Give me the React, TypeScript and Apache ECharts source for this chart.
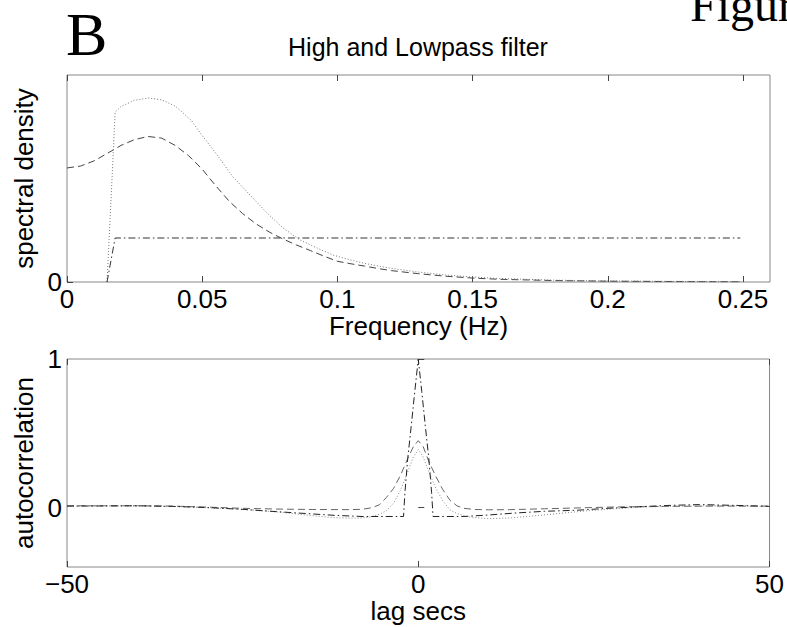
import React, { useEffect, useRef } from "react";
import * as echarts from "echarts";

// ---- Top panel: spectral density vs frequency (Hz) ----
const freqTicks = [0, 0.05, 0.1, 0.15, 0.2, 0.25];
const sdYTicks = [0];

const sdDashedX = [0, 0.005, 0.01, 0.015, 0.02, 0.025, 0.03, 0.035, 0.04, 0.045, 0.05, 0.055, 0.06, 0.065, 0.07, 0.075, 0.08, 0.085, 0.09, 0.095, 0.1, 0.105, 0.11, 0.116, 0.12, 0.13, 0.14, 0.15, 0.16, 0.18, 0.2, 0.225, 0.249];
const sdDashedY = [0.551, 0.56, 0.585, 0.622, 0.66, 0.688, 0.703, 0.695, 0.66, 0.61, 0.545, 0.465, 0.39, 0.33, 0.28, 0.24, 0.207, 0.178, 0.152, 0.125, 0.1, 0.088, 0.077, 0.063, 0.055, 0.04, 0.028, 0.019, 0.013, 0.007, 0.004, 0.002, 0.001];

const sdDottedX = [0.0148, 0.0163, 0.0178, 0.02, 0.025, 0.03, 0.035, 0.04, 0.043, 0.046, 0.049, 0.0555, 0.0614, 0.0677, 0.074, 0.08, 0.0862, 0.0925, 0.0984, 0.105, 0.11, 0.116, 0.12, 0.13, 0.14, 0.15, 0.16, 0.18, 0.2, 0.225, 0.249];
const sdDottedY = [0, 0.4, 0.821, 0.848, 0.878, 0.889, 0.88, 0.85, 0.816, 0.78, 0.725, 0.614, 0.507, 0.42, 0.333, 0.26, 0.203, 0.164, 0.13, 0.106, 0.09, 0.075, 0.066, 0.048, 0.034, 0.024, 0.017, 0.009, 0.005, 0.003, 0.002];

const sdDashDotX = [0.0148, 0.0178, 0.249];
const sdDashDotY = [0, 0.2126, 0.2126];

// ---- Bottom panel: autocorrelation vs lag (secs) ----
const lagTicks = [-50, 0, 50];
const acYTicks = [0, 1];

const acDashedX = [-50, -40, -35, -30, -25, -20, -15, -10, -8, -6.5, -5.5, -4.5, -3.5, -2.5, -1.5, -0.7, 0, 0.7, 1.5, 2.5, 3.5, 4.5, 5.5, 6.5, 8, 10, 13, 18, 23, 28, 35, 42, 50];
const acDashedY = [0.012, 0.012, 0.01, 0.003, -0.005, -0.01, -0.013, -0.014, -0.012, 0.0, 0.02, 0.07, 0.13, 0.22, 0.33, 0.41, 0.45, 0.41, 0.31, 0.21, 0.12, 0.05, 0.012, -0.005, -0.013, -0.015, -0.014, -0.008, -0.002, 0.004, 0.008, 0.01, 0.01];

const acDottedX = [-50, -40, -35, -30, -25, -20, -16, -12, -9, -7, -5.5, -4.5, -3.5, -2.5, -1.5, -0.7, 0, 0.7, 1.5, 2.5, 3.5, 4.5, 5.5, 7, 10, 13, 16, 20, 24, 28, 32, 38, 44, 50];
const acDottedY = [0.01, 0.012, 0.008, 0.0, -0.012, -0.03, -0.05, -0.068, -0.072, -0.065, -0.045, -0.02, 0.03, 0.12, 0.24, 0.34, 0.39, 0.34, 0.24, 0.13, 0.045, -0.015, -0.04, -0.062, -0.075, -0.07, -0.058, -0.04, -0.022, -0.008, 0.004, 0.01, 0.012, 0.008];

const acDashDotX = [-50, -40, -35, -30, -25, -20, -16, -12, -8, -2.1, -1.9, -1.5, -1, -0.5, 0, 0.5, 1, 1.5, 1.9, 2.1, 6.5, 10, 14, 18, 22.6, 27, 32, 36, 40, 45, 50];
const acDashDotY = [0.01, 0.012, 0.008, 0.0, -0.012, -0.028, -0.04, -0.052, -0.06, -0.06, 0.1, 0.33, 0.55, 0.78, 1.0, 0.78, 0.55, 0.33, 0.1, -0.06, -0.06, -0.05, -0.036, -0.025, -0.018, -0.005, 0.007, 0.015, 0.02, 0.015, 0.008];

const pairs = (xs: number[], ys: number[]) => xs.map((x, i) => [x, ys[i]]);

const SANS = "Liberation Sans, Arial, Helvetica, sans-serif";
const SERIF = "Liberation Serif, Times New Roman, serif";
const TICK_COLOR = "#444";

function xAxisCfg(gridIndex: number, min: number, max: number, ticks: number[], top: boolean, name: string) {
  return {
    type: "value",
    gridIndex,
    position: top ? "top" : "bottom",
    min,
    max,
    name: top ? "" : name,
    nameLocation: "middle",
    nameGap: 34,
    nameTextStyle: { fontFamily: SANS, fontSize: 26, color: "#000", lineHeight: 20 },
    axisLine: { show: false, onZero: false },
    axisTick: { show: true, inside: true, length: 6, customValues: ticks, lineStyle: { color: TICK_COLOR, width: 1 } },
    axisLabel: {
      show: !top,
      customValues: ticks,
      margin: 8,
      fontFamily: SANS,
      fontSize: 26,
      lineHeight: 18,
      color: "#000",
      formatter: (v: number) => (v < 0 ? "\u2212" + String(Math.abs(v)) : String(v)),
    },
    splitLine: { show: false },
  };
}

function yAxisCfg(gridIndex: number, min: number, max: number, ticks: number[], name: string, gap: number) {
  return {
    type: "value",
    gridIndex,
    min,
    max,
    name,
    nameLocation: "middle",
    nameGap: gap,
    nameTextStyle: { fontFamily: SANS, fontSize: 26, color: "#000" },
    axisLine: { show: false },
    axisTick: { show: true, inside: true, length: 6, customValues: ticks, lineStyle: { color: TICK_COLOR, width: 1 } },
    axisLabel: { customValues: ticks, margin: 5, fontFamily: SANS, fontSize: 26, color: "#000" },
    splitLine: { show: false },
  };
}

function lineSeries(data: number[][], xAxisIndex: number, yAxisIndex: number, color: string, type: any) {
  return {
    type: "line",
    data,
    xAxisIndex,
    yAxisIndex,
    showSymbol: false,
    symbol: "none",
    smooth: false,
    clip: true,
    lineStyle: { color, width: 1, type },
  };
}

const DASHED = [7, 4];
const DOTTED = [1, 2];
const DASHDOT = [7, 3, 1.5, 3];

export default function App() {
  const ref = useRef<HTMLDivElement>(null);
  useEffect(() => {
    if (!ref.current) return;
    const chart = echarts.init(ref.current, undefined, { renderer: "svg" });
    chart.setOption({
      animation: false,
      backgroundColor: "#fff",
      grid: [
        { left: 67, top: 75, width: 703, height: 207, show: true, borderColor: "#888", borderWidth: 1, backgroundColor: "transparent" },
        { left: 67, top: 359, width: 703, height: 208, show: true, borderColor: "#888", borderWidth: 1, backgroundColor: "transparent" },
      ],
      xAxis: [
        xAxisCfg(0, 0, 0.26, freqTicks, false, "Frequency (Hz)"),
        xAxisCfg(0, 0, 0.26, freqTicks, true, ""),
        xAxisCfg(1, -50, 50, lagTicks, false, "lag secs"),
        xAxisCfg(1, -50, 50, lagTicks, true, ""),
      ],
      yAxis: [
        yAxisCfg(0, 0, 1, sdYTicks, "spectral density", 18),
        yAxisCfg(1, -0.4, 1, acYTicks, "autocorrelation", 18),
      ],
      graphic: [
        { type: "text", x: 66, y: 34, style: { text: "B", font: `62px ${SERIF}`, fill: "#000", textVerticalAlign: "middle", lineHeight: 60 } },
        { type: "text", x: 690, y: 28, style: { text: "Figure", font: `48px ${SERIF}`, fill: "#000", textVerticalAlign: "bottom" } },
        { type: "text", x: 418, y: 47, style: { text: "High and Lowpass filter", font: `25px ${SANS}`, fill: "#000", textAlign: "center", textVerticalAlign: "middle" } },
      ],
      series: [
        lineSeries(pairs(sdDashedX, sdDashedY), 0, 0, "#444", DASHED),
        lineSeries(pairs(sdDottedX, sdDottedY), 0, 0, "#777", DOTTED),
        lineSeries(pairs(sdDashDotX, sdDashDotY), 0, 0, "#333", DASHDOT),
        lineSeries(pairs(acDashedX, acDashedY), 2, 1, "#666", DASHED),
        lineSeries(pairs(acDottedX, acDottedY), 2, 1, "#888", DOTTED),
        lineSeries(pairs(acDashDotX, acDashDotY), 2, 1, "#222", DASHDOT),
      ],
    });
    return () => chart.dispose();
  }, []);
  return <div ref={ref} style={{ position: "fixed", left: 0, top: 0, width: 787, height: 627, background: "#fff" }} />;
}
